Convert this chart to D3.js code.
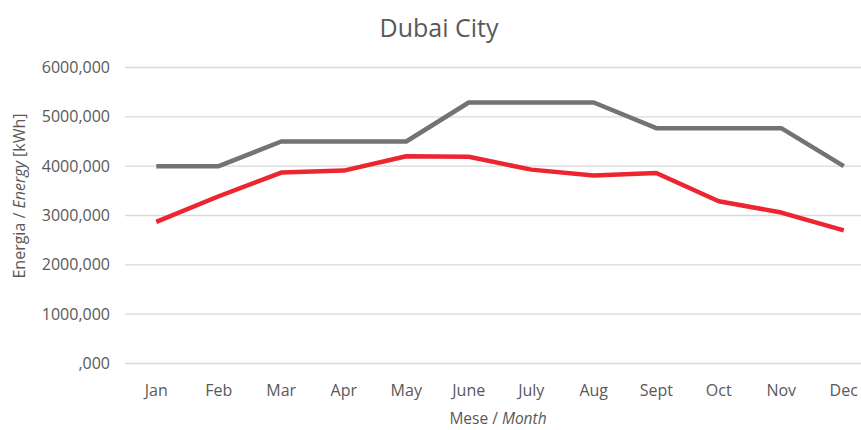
<!DOCTYPE html>
<html>
<head>
<meta charset="utf-8">
<script src="https://cdn.jsdelivr.net/npm/d3@7"></script>
<style>
  body { margin: 0; background: #fff; }
  text { font-family: "Open Sans", sans-serif; fill: #595959; }
</style>
</head>
<body>
<svg id="chart" width="861" height="430"></svg>
<script>
// Months on the category axis
const months = ["Jan", "Feb", "Mar", "Apr", "May", "June", "July", "Aug", "Sept", "Oct", "Nov", "Dec"];

// Grey series (upper line), kWh
const greySeries = [4000, 4000, 4500, 4500, 4500, 5290, 5290, 5290, 4770, 4770, 4770, 4000];

// Red series (lower line), kWh
const redSeries = [2870, 3390, 3870, 3910, 4200, 4190, 3930, 3810, 3860, 3290, 3060, 2700];

// y tick values and their labels as printed
const yTicks = [0, 1000, 2000, 3000, 4000, 5000, 6000];
const yTickLabels = [",000", "1000,000", "2000,000", "3000,000", "4000,000", "5000,000", "6000,000"];

const svg = d3.select("#chart");
const margin = { top: 67, right: -14, bottom: 67, left: 125 };
const width = +svg.attr("width");
const height = +svg.attr("height");

const x = d3.scaleBand()
    .domain(months)
    .range([margin.left, width - margin.right]);

const y = d3.scaleLinear()
    .domain([0, 6000])
    .range([height - margin.bottom + 0.5, margin.top + 0.5]);

// Gridlines
svg.append("g")
    .selectAll("line")
    .data(yTicks)
    .enter().append("line")
    .attr("x1", margin.left)
    .attr("x2", width - margin.right)
    .attr("y1", d => y(d))
    .attr("y2", d => y(d))
    .attr("stroke", "#d9d9d9")
    .attr("stroke-width", 1.3);

// y tick labels
svg.append("g")
    .selectAll("text")
    .data(yTicks)
    .enter().append("text")
    .attr("x", 110)
    .attr("y", d => y(d))
    .attr("dy", "0.35em")
    .attr("text-anchor", "end")
    .style("font-size", "16px")
    .text((d, i) => yTickLabels[i]);

// x tick labels
svg.append("g")
    .selectAll("text")
    .data(months)
    .enter().append("text")
    .attr("x", d => x(d) + x.bandwidth() / 2)
    .attr("y", 396)
    .attr("text-anchor", "middle")
    .style("font-size", "16px")
    .text(d => d);

// Lines
const line = d3.line()
    .x((d, i) => x(months[i]) + x.bandwidth() / 2)
    .y(d => y(d));

svg.append("path")
    .datum(greySeries)
    .attr("fill", "none")
    .attr("stroke", "#737373")
    .attr("stroke-width", 4.5)
    .attr("stroke-linejoin", "round")
    .attr("d", line);

svg.append("path")
    .datum(redSeries)
    .attr("fill", "none")
    .attr("stroke", "#ec2530")
    .attr("stroke-width", 4.5)
    .attr("stroke-linejoin", "round")
    .attr("d", line);

// Title
svg.append("text")
    .attr("x", 439)
    .attr("y", 37)
    .attr("text-anchor", "middle")
    .style("font-size", "25px")
    .text("Dubai City");

// x axis title
const xTitle = svg.append("text")
    .attr("x", 498)
    .attr("y", 424)
    .attr("text-anchor", "middle")
    .style("font-size", "15.5px");
xTitle.append("tspan").text("Mese / ");
xTitle.append("tspan").style("font-style", "italic").text("Month");

// y axis title
const yTitle = svg.append("text")
    .attr("transform", "translate(25,196) rotate(-90)")
    .attr("text-anchor", "middle")
    .style("font-size", "16px");
yTitle.append("tspan").text("Energia / ");
yTitle.append("tspan").style("font-style", "italic").text("Energy");
yTitle.append("tspan").text(" [kWh]");
</script>
</body>
</html>
